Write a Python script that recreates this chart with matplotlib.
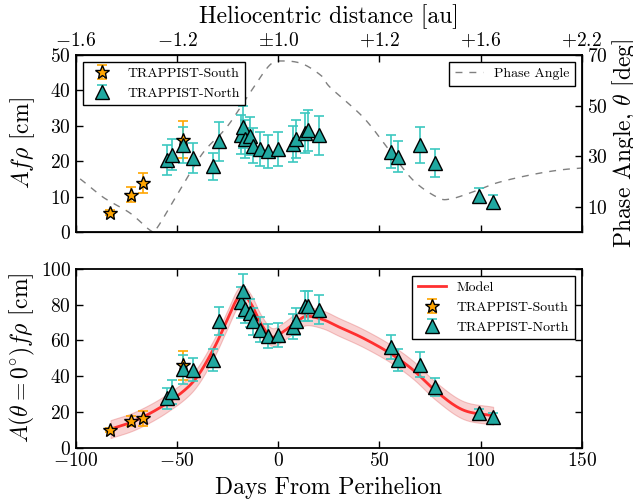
import numpy as np
import matplotlib
matplotlib.use("Agg")
import matplotlib.pyplot as plt

plt.rcParams['font.family'] = 'serif'
plt.rcParams['font.serif'] = ['cmr10']
plt.rcParams['mathtext.fontset'] = 'cm'
plt.rcParams['axes.formatter.use_mathtext'] = True
plt.rcParams['axes.unicode_minus'] = True

# ---------------- data ----------------
south_days = [-83.2, -73.0, -67.1, -47.0]
south_afrho = [5.5, 10.5, 13.8, 26.1]
south_afrho_err = [0.6, 2.1, 2.8, 5.2]
south_a0 = [9.7, 14.8, 16.3, 46.0]
south_a0_err = [1.0, 3.0, 4.0, 8.3]

north_days = [-55.2, -52.7, -47.0, -42.0, -32.2, -29.2, -18.2, -17.4, -16.5,
              -14.0, -12.4, -9.0, -5.0, 0.0, 7.1, 9.0, 13.1, 14.8, 20.2,
              55.5, 59.4, 70.3, 77.4, 99.3, 106.2]
north_afrho = [20.4, 21.8, 24.6, 20.9, 18.5, 25.6, 27.5, 29.7, 26.3,
               27.0, 24.4, 23.4, 22.8, 23.4, 24.9, 26.3, 28.0, 28.7, 27.3,
               22.7, 21.3, 24.6, 19.5, 10.3, 8.6]
north_afrho_err = [4.2, 4.4, 5.0, 4.2, 3.7, 5.6, 5.5, 6.0, 5.3,
                   5.4, 4.9, 4.7, 4.6, 4.7, 5.0, 5.3, 5.6, 5.7, 5.5,
                   4.7, 4.3, 5.0, 4.0, 2.2, 1.9]
north_a0 = [27.5, 31.3, 43.8, 43.5, 49.1, 71.0, 81.3, 87.5, 77.6,
            75.4, 70.6, 66.0, 62.6, 63.2, 67.5, 70.6, 79.1, 79.1, 77.2,
            56.2, 49.1, 46.3, 34.1, 19.1, 17.2]
north_a0_err = [6.0, 6.7, 8.0, 6.4, 6.0, 7.8, 8.5, 9.4, 8.0,
                8.0, 7.5, 7.0, 6.6, 6.7, 7.0, 7.5, 8.3, 8.3, 8.1,
                6.8, 6.0, 7.0, 5.0, 2.5, 2.3]

phase_days = [-103, -100, -86.7, -73.3, -63.0, -60.0, -48.6, -37.3, -25.4, -14.0,
              -4.2, 2.2, 12.2, 22.0, 25.5, 41.8, 53.7, 66.5, 78.4, 84.8,
              96.1, 108, 124.3, 139.1, 152]
phase_deg = [20.6, 22.1, 13.8, 7.5, 0.5, 1.5, 16.6, 31.2, 41.5, 55.0,
             66.0, 67.6, 66.4, 61.3, 57.3, 45.5, 33.6, 20.6, 13.8, 13.0,
             15.8, 19.4, 22.5, 24.5, 25.4]

model_days = [-82.9, -70, -55.2, -42, -32.2, -25.6, -20.6, -17.4, -13.2, -8.3,
              -3.1, 2.6, 9.2, 14.1, 22.2, 30.0, 41.9, 55.1, 66.6, 78.2, 91.4, 106.2]
model_vals = [10.3, 15.4, 24.7, 36.9, 54.7, 70.6, 82.8, 85.7, 80.0, 68.8,
              61.9, 65.0, 70.6, 73.5, 71.6, 67.5, 61.3, 52.9, 43.5, 31.3, 21.0, 17.8]
model_band = 5.0

helio_ticks = [-100, -50, 0, 50, 100, 150]
helio_labels = [r'$-1.6$', r'$-1.2$', r'$\pm1.0$', r'$+1.2$', r'$+1.6$', r'$+2.2$']

# smooth curve through the read points (Catmull-Rom)
def smooth(xs, ys):
    xs = np.asarray(xs, float); ys = np.asarray(ys, float)
    pts_x, pts_y = [], []
    P = np.column_stack([xs, ys])
    P = np.vstack([P[0] - (P[1] - P[0]), P, P[-1] + (P[-1] - P[-2])])
    for i in range(1, len(P) - 2):
        p0, p1, p2, p3 = P[i - 1], P[i], P[i + 1], P[i + 2]
        t = np.linspace(0, 1, 20, endpoint=False)[:, None]
        c = 0.5 * ((2 * p1) + (-p0 + p2) * t + (2 * p0 - 5 * p1 + 4 * p2 - p3) * t**2
                   + (-p0 + 3 * p1 - 3 * p2 + p3) * t**3)
        pts_x.extend(c[:, 0]); pts_y.extend(c[:, 1])
    pts_x.append(xs[-1]); pts_y.append(ys[-1])
    return np.array(pts_x), np.array(pts_y)

south_col = '#FFA500'
north_err_col = '#3CC8C0'
north_face = '#20A8A0'
LABEL_FS = 17

fig = plt.figure(figsize=(6.33, 5.03), dpi=100)
ax1 = fig.add_axes([0.120, 0.5388, 0.799, 0.352])
ax2 = fig.add_axes([0.120, 0.1103, 0.799, 0.355])

for ax in (ax1, ax2):
    for s in ax.spines.values():
        s.set_linewidth(1.3)
    ax.tick_params(direction='in', length=5, width=1, labelsize=14)
    ax.set_xlim(-100, 150)

# ---- top panel ----
axr = ax1.twinx()
px, py = smooth(phase_days, phase_deg)
axr.plot(px, py, ls=(0, (5, 5)), color='gray', lw=1.0, label='Phase Angle')
axr.set_ylim(0, 70)
axr.set_yticks([10, 30, 50, 70])
axr.tick_params(direction='in', length=5, width=1, labelsize=14)
axr.set_ylabel(r'Phase Angle, $\theta$ [deg]', fontsize=LABEL_FS, labelpad=2)
axr.set_xlim(-100, 150)

ax1.errorbar(south_days, south_afrho, yerr=south_afrho_err, fmt='*', color=south_col,
             mfc=south_col, mec='black', ms=10, ecolor=south_col, capsize=3.5,
             elinewidth=1.2, capthick=1.2, label='TRAPPIST-South', zorder=3)
ax1.errorbar(north_days, north_afrho, yerr=north_afrho_err, fmt='^', color=north_face,
             mfc=north_face, mec='black', ms=10, ecolor=north_err_col, capsize=3.5,
             elinewidth=1.2, capthick=1.2, label='TRAPPIST-North', zorder=3)
ax1.set_ylim(0, 50)
ax1.set_yticks([0, 10, 20, 30, 40, 50])
ax1.set_xticks(helio_ticks)
ax1.set_xticklabels([])
ax1.set_ylabel(r'$Af\rho$ [cm]', fontsize=LABEL_FS)
ax1.yaxis.set_label_coords(-0.077, 0.5)
ax1.set_zorder(axr.get_zorder() + 1)
ax1.patch.set_visible(False)
leg1 = ax1.legend(loc='upper left', fontsize=10, numpoints=1, fancybox=False,
                  framealpha=1, edgecolor='black')
leg1.get_frame().set_linewidth(1.0)
legr = axr.legend(loc='upper right', fontsize=10, fancybox=False, framealpha=1,
                  edgecolor='black')
legr.get_frame().set_linewidth(1.0)

axt = ax1.twiny()
axt.set_xlim(-100, 150)
axt.set_xticks(helio_ticks)
axt.set_xticklabels(helio_labels)
axt.tick_params(direction='in', length=5, width=1, labelsize=14)
axt.set_xlabel('Heliocentric distance [au]', fontsize=LABEL_FS, labelpad=6)

# ---- bottom panel ----
mx, my = smooth(model_days, model_vals)
ax2.fill_between(mx, my - model_band, my + model_band, color='#F08080', alpha=0.35,
                 lw=0.8, edgecolor='#E06060')
ax2.plot(mx, my, color='#FF3030', lw=2, label='Model', zorder=2)
ax2.errorbar(south_days, south_a0, yerr=south_a0_err, fmt='*', color=south_col,
             mfc=south_col, mec='black', ms=10, ecolor=south_col, capsize=3.5,
             elinewidth=1.2, capthick=1.2, label='TRAPPIST-South', zorder=3)
ax2.errorbar(north_days, north_a0, yerr=north_a0_err, fmt='^', color=north_face,
             mfc=north_face, mec='black', ms=10, ecolor=north_err_col, capsize=3.5,
             elinewidth=1.2, capthick=1.2, label='TRAPPIST-North', zorder=3)
ax2.set_ylim(0, 100)
ax2.set_yticks([0, 20, 40, 60, 80, 100])
ax2.set_xticks(helio_ticks)
ax2.tick_params(top=True, right=True)
ax2.set_xlabel('Days From Perihelion', fontsize=LABEL_FS, labelpad=5)
ax2.set_ylabel(r'$A(\theta=0^{\circ})f\rho$ [cm]', fontsize=LABEL_FS)
ax2.yaxis.set_label_coords(-0.077, 0.5)
leg2 = ax2.legend(loc='upper right', fontsize=10, numpoints=1, fancybox=False,
                  framealpha=1, edgecolor='black')
leg2.get_frame().set_linewidth(1.0)

fig.savefig('out.png', dpi=100)
